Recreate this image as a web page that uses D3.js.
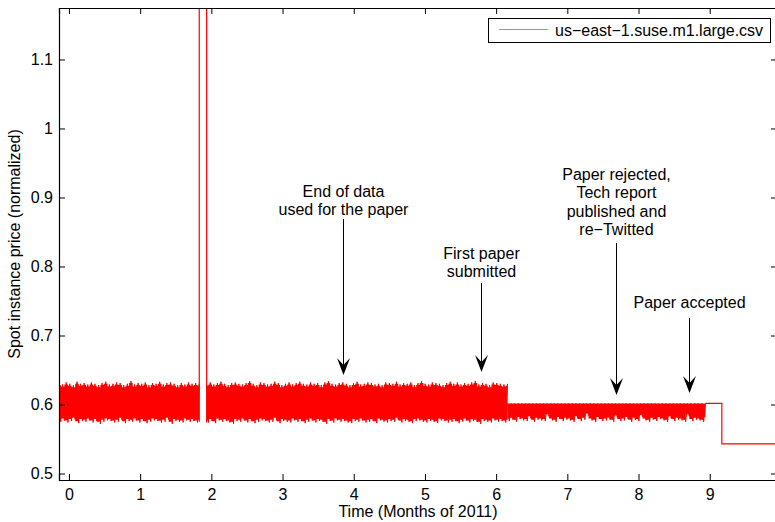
<html>
<head>
    <title>Spot price</title>
    <script src='https://d3js.org/d3.v7.min.js'></script>
    <style>
        body { margin: 0; background: #fff; }
        text { font-family: 'Liberation Sans', Arial, sans-serif; }
    </style>
</head>
<body>
<script>
    // band envelopes (price x 1000)
    // segment A: -0.14 .. 1.83 months
    var hiA = [631,629,632,630,628,633,630,631,629,632,630,628,631,633,629,630,632,631,628,630,634,629,631,630,632,628,631,630,633,629,631,632,630,628,631,629,632,630,631,630];
    var loA = [575,577,574,576,578,573,576,575,577,574,576,572,575,577,576,574,575,578,573,576,575,577,574,576,573,575,577,576,574,575,578,572,576,575,574,577,575,576,574,575];
    // segment B: 1.934 .. 6.16 months
    var hiB = [630,632,629,631,633,630,628,631,632,630,629,631,634,630,628,632,631,629,630,633,631,628,630,632,629,631,633,630,629,632,630,631,628,632,634,630,629,631,632,630,628,631,633,629,630,632,631,629,630,628,632,631,630,633,629,631,630,632,628,631,634,630,629,632,631,630,628,631,633,630,632,629,631,630,632,634,629,631,630,628,632,631,630,629,630];
    var loB = [574,576,573,577,575,576,574,572,576,575,577,574,576,573,575,577,576,574,575,578,573,576,575,574,577,575,576,573,575,577,574,576,575,572,576,574,577,575,576,574,573,576,575,577,574,575,576,573,577,575,574,576,575,578,574,576,575,573,576,577,575,574,576,575,573,577,576,574,575,576,573,575,577,574,576,575,572,576,575,574,577,575,576,574,575];
    // segment C: 6.16 .. 8.94 months, top is flat
    var hiC = 601.5;
    var loC = [576,578,575,579,577,576,580,575,578,577,576,583,577,575,579,576,578,577,575,580,576,578,584,577,575,579,576,577,578,575,581,576,577,579,575,578,576,582,577,575,578,576,579,577,575,580,576,578,577,575,583,576,578,577,575,579];
    var segA = [-0.14, 1.83], segB = [1.934, 6.16], segC = [6.16, 8.94];

    // spike and the final steps: [month, price]
    var spike = [[1.83, 0.575], [1.83, 1.5], [1.934, 1.5], [1.934, 0.574]];
    var tail = [[8.94, 0.6015], [9.17, 0.6015], [9.17, 0.543], [9.94, 0.543]];

    var xTicks = [0, 1, 2, 3, 4, 5, 6, 7, 8, 9];
    var yTicks = [0.5, 0.6, 0.7, 0.8, 0.9, 1.0, 1.1];

    // annotations
    var noteText = [['End of data', 'used for the paper'], ['First paper', 'submitted'],
        ['Paper rejected,', 'Tech report', 'published and', 're\u2212Twitted'], ['Paper accepted']];
    var noteMonth = [3.85, 5.79, 7.69, 8.71];
    var noteTip = [0.6428, 0.647, 0.6138, 0.6167];
    var noteTop = [0.8688, 0.7761, 0.834, 0.7254];
    var noteLabel = [0.9007, 0.8109, 0.9254, 0.7399];

    var width = 775, height = 522;
    var m = { left: 59, top: 8, right: 777, bottom: 480 };
    var fs = 16;

    var svg = d3.select('body').append('svg')
        .attr('width', width)
        .attr('height', height);

    var x = d3.scaleLinear().domain([-0.14, 9.945]).range([m.left, m.right]);
    var y = d3.scaleLinear().domain([0.4906, 1.1746]).range([m.bottom, m.top]);

    svg.append('clipPath').attr('id', 'clip')
        .append('rect')
        .attr('x', m.left).attr('y', m.top)
        .attr('width', m.right - m.left).attr('height', m.bottom - m.top);

    var plot = svg.append('g').attr('clip-path', 'url(#clip)');

    function band(start, end, hi, lo) {
        var n = lo.length;
        return lo.map(function (v, i) {
            return { t: start + (end - start) * i / (n - 1), hi: (Array.isArray(hi) ? hi[i] : hi) / 1000, lo: v / 1000 };
        });
    }

    // price jumps between the high and low ends of the band
    var zig = d3.line()
        .x(function (d) { return x(d[0]); })
        .y(function (d) { return y(d[1]); });

    [[band(segA[0], segA[1], hiA, loA), 2], [band(segB[0], segB[1], hiB, loB), 2], [band(segC[0], segC[1], hiC, loC), 0]]
        .forEach(function (s) {
            var pts = s[0], inset = s[1];
            var area = d3.area()
                .curve(d3.curveStep)
                .x(function (d) { return x(d.t); })
                .y0(function (d) { return y(d.lo) - 2; })
                .y1(function (d) { return y(d.hi) + inset; });
            plot.append('path')
                .attr('d', area(pts))
                .attr('fill', '#ff0000');
            var half = (pts[1].t - pts[0].t) / 2;
            var zz = [];
            pts.forEach(function (d, i) {
                zz.push([d.t, d.hi]);
                if (i < pts.length - 1) zz.push([d.t + half, d.lo]);
            });
            plot.append('path')
                .attr('d', zig(zz))
                .attr('fill', 'none')
                .attr('stroke', '#ff0000')
                .attr('stroke-width', 1);
        });

    var line = d3.line()
        .x(function (d) { return x(d[0]); })
        .y(function (d) { return y(d[1]); });

    [spike, tail].forEach(function (pts) {
        plot.append('path')
            .attr('d', line(pts))
            .attr('fill', 'none')
            .attr('stroke', '#ff0000')
            .attr('stroke-width', 1.2);
    });

    // axes, ticks pointing inward on all four sides
    var gx = svg.append('g').attr('transform', 'translate(0,' + m.bottom + ')')
        .call(d3.axisBottom(x).tickValues(xTicks).tickFormat(d3.format('d')).tickSize(-6).tickPadding(9));
    var gxt = svg.append('g').attr('transform', 'translate(0,' + m.top + ')')
        .call(d3.axisTop(x).tickValues(xTicks).tickFormat('').tickSize(-6));
    var gy = svg.append('g').attr('transform', 'translate(' + m.left + ',0)')
        .call(d3.axisLeft(y).tickValues(yTicks).tickFormat(d3.format('')).tickSize(-6).tickPadding(6));
    var gyr = svg.append('g').attr('transform', 'translate(' + m.right + ',0)')
        .call(d3.axisRight(y).tickValues(yTicks).tickFormat('').tickSize(-6));

    [gx, gxt, gy, gyr].forEach(function (g) {
        g.select('.domain').attr('stroke', '#000').attr('stroke-width', 1.2);
        g.selectAll('.tick line').attr('stroke', '#000');
        g.selectAll('.tick text').attr('font-size', fs).attr('fill', '#000')
            .attr('font-family', "'Liberation Sans', Arial, sans-serif");
    });

    svg.append('text')
        .attr('x', (m.left + m.right) / 2)
        .attr('y', 517)
        .attr('text-anchor', 'middle')
        .attr('font-size', fs)
        .text('Time (Months of 2011)');

    svg.append('text')
        .attr('transform', 'translate(20,' + (m.top + m.bottom) / 2 + ') rotate(-90)')
        .attr('text-anchor', 'middle')
        .attr('font-size', fs)
        .text('Spot instance price (normalized)');

    // legend
    var leg = svg.append('g');
    leg.append('rect')
        .attr('x', 488.5).attr('y', 18.5).attr('width', 282).attr('height', 24)
        .attr('fill', '#fff').attr('stroke', '#000');
    leg.append('line')
        .attr('x1', 499).attr('x2', 548).attr('y1', 29.5).attr('y2', 29.5)
        .attr('stroke', '#ff7070').attr('stroke-width', 1.2);
    leg.append('text')
        .attr('x', 555).attr('y', 35.5)
        .attr('font-size', fs)
        .text('us\u2212east\u22121.suse.m1.large.csv');

    // arrows with notes
    var notes = svg.append('g');
    noteText.forEach(function (lines, i) {
        var ax = Math.round(x(noteMonth[i])) + 0.5;
        var tip = y(noteTip[i]);
        var t = notes.append('text')
            .attr('text-anchor', 'middle')
            .attr('font-size', fs);
        lines.forEach(function (s, k) {
            t.append('tspan').attr('x', ax).attr('y', y(noteLabel[i]) + k * 18.3).text(s);
        });
        notes.append('line')
            .attr('x1', ax).attr('x2', ax)
            .attr('y1', y(noteTop[i])).attr('y2', tip - 8)
            .attr('stroke', '#000').attr('stroke-width', 1);
        notes.append('path')
            .attr('d', 'M' + ax + ',' + tip + 'L' + (ax - 6.5) + ',' + (tip - 17) +
                'L' + ax + ',' + (tip - 10) + 'L' + (ax + 6.5) + ',' + (tip - 17) + 'Z')
            .attr('fill', '#000');
    });
</script>
</body>
</html>
